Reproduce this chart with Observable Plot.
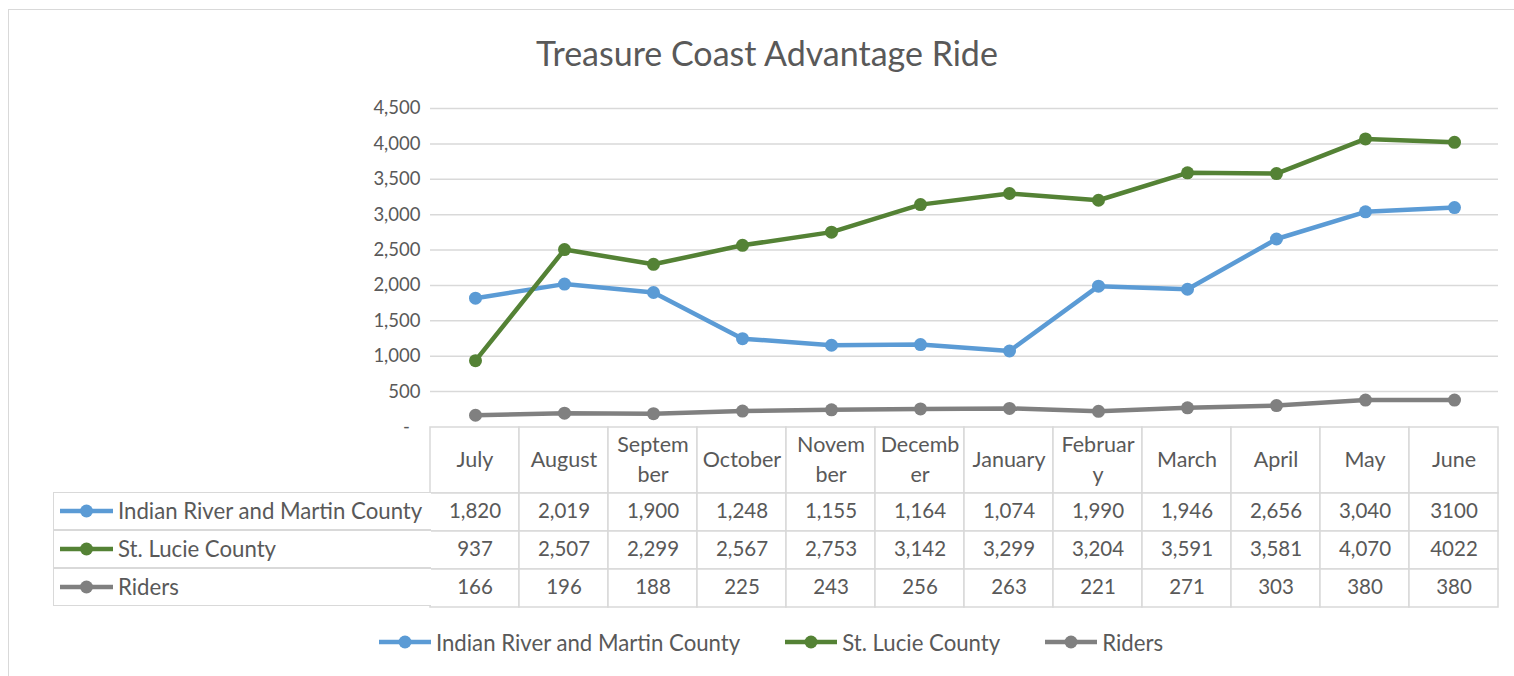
<!DOCTYPE html>
<html>
<head>
<meta charset="utf-8">
<script src="https://cdn.jsdelivr.net/npm/d3@7"></script>
<script src="https://cdn.jsdelivr.net/npm/@observablehq/plot@0.6"></script>
<style>
  html, body { margin: 0; padding: 0; background: #fff; }
  #root { position: relative; width: 1514px; height: 676px; overflow: hidden; font-family: Lato, "Open Sans", sans-serif; color: #595959; }
  .abs { position: absolute; }
  #frame { left: 8px; top: 9px; width: 1560px; height: 720px; border: 1.5px solid #d9d9d9; box-sizing: border-box; }
  #title { left: 0; width: 1534px; top: 32px; text-align: center; font-size: 34px; line-height: 42px; }
  .lab-row { position: absolute; left: 53px; width: 378px; height: 38px; box-sizing: border-box; border: 1.5px solid #d9d9d9; border-right: none; display: flex; align-items: center; font-size: 22.2px; background: #fff; }
  .lab-row svg { margin-left: 6px; margin-right: 5px; }
  #legend { left: 0; width: 1542px; top: 628px; height: 28px; display: flex; justify-content: center; align-items: center; gap: 45px; font-size: 22.2px; }
  .leg-item { display: flex; align-items: center; }
  .leg-item svg { margin-right: 5px; }
</style>
</head>
<body>
<div id="root">
  <div id="frame" class="abs"></div>
  <div id="title" class="abs">Treasure Coast Advantage Ride</div>
</div>
<script>
// ---- data ----
const months = ["July","August","September","October","November","December","January","February","March","April","May","June"];
const monthLabels = ["July","August","Septem\nber","October","Novem\nber","Decemb\ner","January","Februar\ny","March","April","May","June"];
const seriesNames = ["Indian River and Martin County","St. Lucie County","Riders"];
const indianRiverMartin = [1820,2019,1900,1248,1155,1164,1074,1990,1946,2656,3040,3100];
const stLucie = [937,2507,2299,2567,2753,3142,3299,3204,3591,3581,4070,4022];
const riders = [166,196,188,225,243,256,263,221,271,303,380,380];
const yTicks = [0,500,1000,1500,2000,2500,3000,3500,4000,4500];
const seriesColors = ["#5B9BD5","#548235","#808080"];
// the source table shows the June column without thousands separators
const plainFormatMonths = ["June"];

// ---- build tidy table ----
const seriesValues = [indianRiverMartin, stLucie, riders];
const tidy = [];
seriesNames.forEach((s, si) => months.forEach((m, mi) => tidy.push({series: s, month: m, value: seriesValues[si][mi]})));
const fmtComma = d3.format(",");
const fmtCell = d => plainFormatMonths.includes(d.month) ? String(d.value) : fmtComma(d.value);

const FONT = 'Lato, "Open Sans", sans-serif';
const GRID = "#d9d9d9";
const TEXT = "#595959";
const root = document.getElementById("root");

// ---- main line chart ----
const chart = Plot.plot({
  width: 1514, height: 436,
  marginTop: 108, marginBottom: 9.5, marginLeft: 430, marginRight: 16,
  style: {fontFamily: FONT, fontSize: "18px", color: TEXT, background: "transparent"},
  x: {type: "point", domain: months, padding: 0.5, axis: null, label: null},
  y: {domain: [0, 4500], axis: null, label: null},
  color: {domain: seriesNames, range: seriesColors},
  marks: [
    Plot.gridY(yTicks.filter(v => v > 0), {stroke: GRID, strokeOpacity: 1, strokeWidth: 1.5}),
    Plot.axisY(yTicks, {tickSize: 0, tickPadding: 10, fontSize: 18.5, fill: TEXT, label: null,
      tickFormat: v => v === 0 ? "-\u2007" : fmtComma(v)}),
    Plot.line(tidy, {x: "month", y: "value", z: "series", stroke: "series", strokeWidth: 4.5, strokeLinejoin: "round"}),
    Plot.dot(tidy, {x: "month", y: "value", fill: "series", r: 6.5})
  ]
});
chart.classList.add("abs");
chart.style.left = "0px"; chart.style.top = "0px";
root.appendChild(chart);

// ---- table header row (categories) ----
const header = Plot.plot({
  width: 1514, height: 70,
  marginTop: 2, marginBottom: 2, marginLeft: 430, marginRight: 16,
  style: {fontFamily: FONT, color: TEXT, background: "transparent"},
  x: {type: "band", domain: months, padding: 0, axis: null, label: null},
  marks: [
    Plot.cell(months, {x: d => d, fill: "white", stroke: GRID, strokeWidth: 1.5}),
    Plot.text(months, {x: d => d, text: (d, i) => monthLabels[i], fontSize: 21.5, lineHeight: 1.38, dy: -3, fill: TEXT})
  ]
});
header.classList.add("abs");
header.style.left = "0px"; header.style.top = (426.5 - 2) + "px";
root.appendChild(header);

// ---- table value rows ----
const rows = Plot.plot({
  width: 1514, height: 118,
  marginTop: 2, marginBottom: 2, marginLeft: 430, marginRight: 16,
  style: {fontFamily: FONT, color: TEXT, background: "transparent"},
  x: {type: "band", domain: months, padding: 0, axis: null, label: null},
  y: {type: "band", domain: seriesNames, padding: 0, axis: null, label: null},
  marks: [
    Plot.cell(tidy, {x: "month", y: "series", fill: "white", stroke: GRID, strokeWidth: 1.5}),
    Plot.text(tidy, {x: "month", y: "series", text: fmtCell, fontSize: 20.5, dy: -1, fill: TEXT})
  ]
});
rows.classList.add("abs");
rows.style.left = "0px"; rows.style.top = (492.5 - 2) + "px";
root.appendChild(rows);

// ---- legend swatch helper ----
function swatch(color, w) {
  const s = d3.create("svg").attr("width", w).attr("height", 16);
  s.append("line").attr("x1", 0).attr("x2", w).attr("y1", 8).attr("y2", 8)
    .attr("stroke", color).attr("stroke-width", 4.5);
  s.append("circle").attr("cx", w / 2).attr("cy", 8).attr("r", 6.5).attr("fill", color);
  return s.node();
}

// ---- table label column ----
seriesNames.forEach((name, i) => {
  const div = document.createElement("div");
  div.className = "lab-row";
  div.style.top = (492.5 - 0.75 + i * 38) + "px";
  div.appendChild(swatch(seriesColors[i], 53));
  const span = document.createElement("span");
  span.textContent = name;
  div.appendChild(span);
  root.appendChild(div);
});

// ---- bottom legend ----
const legend = document.createElement("div");
legend.id = "legend"; legend.className = "abs";
seriesNames.forEach((name, i) => {
  const item = document.createElement("div");
  item.className = "leg-item";
  item.appendChild(swatch(seriesColors[i], 52));
  const span = document.createElement("span");
  span.textContent = name;
  item.appendChild(span);
  legend.appendChild(item);
});
root.appendChild(legend);
</script>
</body>
</html>
